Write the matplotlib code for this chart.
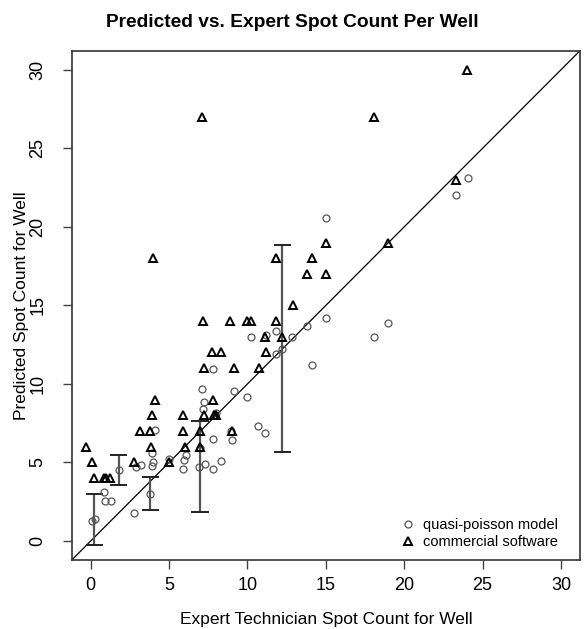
import matplotlib
matplotlib.use("Agg")
import matplotlib.pyplot as plt

plt.rcParams['font.family'] = ['Liberation Sans', 'DejaVu Sans']

# quasi-poisson model predictions (expert count, predicted count)
qp_x = [0.08, 0.24, 0.82, 0.94, 1.29, 1.77, 2.79, 2.90, 3.20, 3.79, 3.90, 3.96,
        3.92, 4.10, 5.02, 5.91, 5.96, 6.06, 6.97, 6.93, 7.29, 7.08, 7.23, 7.14,
        7.78, 7.82, 8.31, 8.99, 9.12, 9.95, 10.70, 11.11, 11.80, 11.16, 10.20,
        12.85, 13.77, 14.98, 12.22, 11.82, 14.13, 7.78, 7.99, 8.95, 15.04,
        18.97, 18.08, 24.06, 23.32]
qp_y = [1.24, 1.37, 3.10, 2.57, 2.57, 4.53, 1.79, 4.68, 4.85, 2.99, 4.75, 5.00,
        5.59, 7.06, 5.21, 4.58, 5.17, 5.48, 5.89, 4.72, 4.89, 9.70, 8.84, 8.42,
        6.52, 4.58, 5.10, 6.43, 9.53, 9.18, 7.32, 6.90, 13.37, 13.10, 13.01,
        12.97, 13.71, 14.18, 12.23, 11.90, 11.22, 10.95, 8.12, 7.00, 20.57,
        13.86, 12.97, 23.14, 22.02]

# commercial software counts
cs_x = [-0.29, 0.08, 0.18, 0.82, 0.99, 1.24, 2.77, 3.15, 3.75, 4.10, 3.92, 3.83,
        5.91, 5.91, 6.02, 6.97, 6.97, 7.78, 7.23, 7.87, 8.00, 8.99, 5.02, 4.00,
        11.82, 14.13, 13.81, 15.04, 12.88, 7.15, 8.89, 9.95, 10.20, 11.80,
        11.11, 12.22, 7.74, 8.31, 11.16, 7.23, 9.14, 10.73, 15.00, 18.97,
        24.03, 23.28, 7.08, 18.08]
cs_y = [6, 5, 4, 4, 4, 4, 5, 7, 7, 9, 8, 6,
        8, 7, 6, 7, 6, 9, 8, 8, 8, 7, 5, 18,
        18, 18, 17, 17, 15, 14, 14, 14, 14, 14,
        13, 13, 12, 12, 12, 11, 11, 11, 19, 19,
        30, 23, 27, 27]

# prediction intervals for a few wells
bar_x = [0.22, 1.77, 3.79, 6.97, 12.22]
bar_lo = [-0.23, 3.56, 1.94, 1.83, 5.67]
bar_hi = [2.99, 5.48, 4.09, 7.63, 18.86]

ticks = [0, 5, 10, 15, 20, 25, 30]

fig = plt.figure(figsize=(5.85, 6.29), dpi=100)
ax = fig.add_axes([0.123, 0.110, 0.868, 0.809])

ax.axline((0, 0), slope=1, color='black', lw=0.9, zorder=2)

for x, lo, hi in zip(bar_x, bar_lo, bar_hi):
    ax.vlines(x, lo, hi, color='#555555', lw=1.6, zorder=3)
    ax.hlines([lo, hi], x - 0.55, x + 0.55, color='#222222', lw=1.4, zorder=3)

ax.plot(qp_x, qp_y, 'o', ms=5, mfc='none', mec='#555555', mew=0.9,
        label='quasi-poisson model', zorder=4)
ax.plot(cs_x, cs_y, '^', ms=6.3, mfc='none', mec='black', mew=1.4,
        label='commercial software', zorder=5)

ax.set_xlim(-1.2, 31.2)
ax.set_ylim(-1.2, 31.2)
ax.set_xticks(ticks)
ax.set_yticks(ticks)
ax.tick_params(axis='both', direction='out', length=6.5, width=1,
               color='#444444', labelsize=13)
ax.tick_params(axis='x', pad=6)
ax.tick_params(axis='y', pad=12)
for lab in ax.get_yticklabels():
    lab.set_rotation(90)
    lab.set_va('center')
for s in ax.spines.values():
    s.set_color('#333333')
    s.set_linewidth(1.2)

ax.set_xlabel('Expert Technician Spot Count for Well', fontsize=12.5, labelpad=13)
ax.set_ylabel('Predicted Spot Count for Well', fontsize=12.5, labelpad=0.5)
fig.suptitle('Predicted vs. Expert Spot Count Per Well', fontsize=13.8,
             fontweight='bold', x=0.5, y=0.977)

ax.legend(loc='lower right', bbox_to_anchor=(0.986, -0.008), frameon=False,
          fontsize=10.5, handlelength=1, handletextpad=0.5, labelspacing=0.25,
          borderaxespad=0.6)

fig.savefig('out.png', dpi=100)
